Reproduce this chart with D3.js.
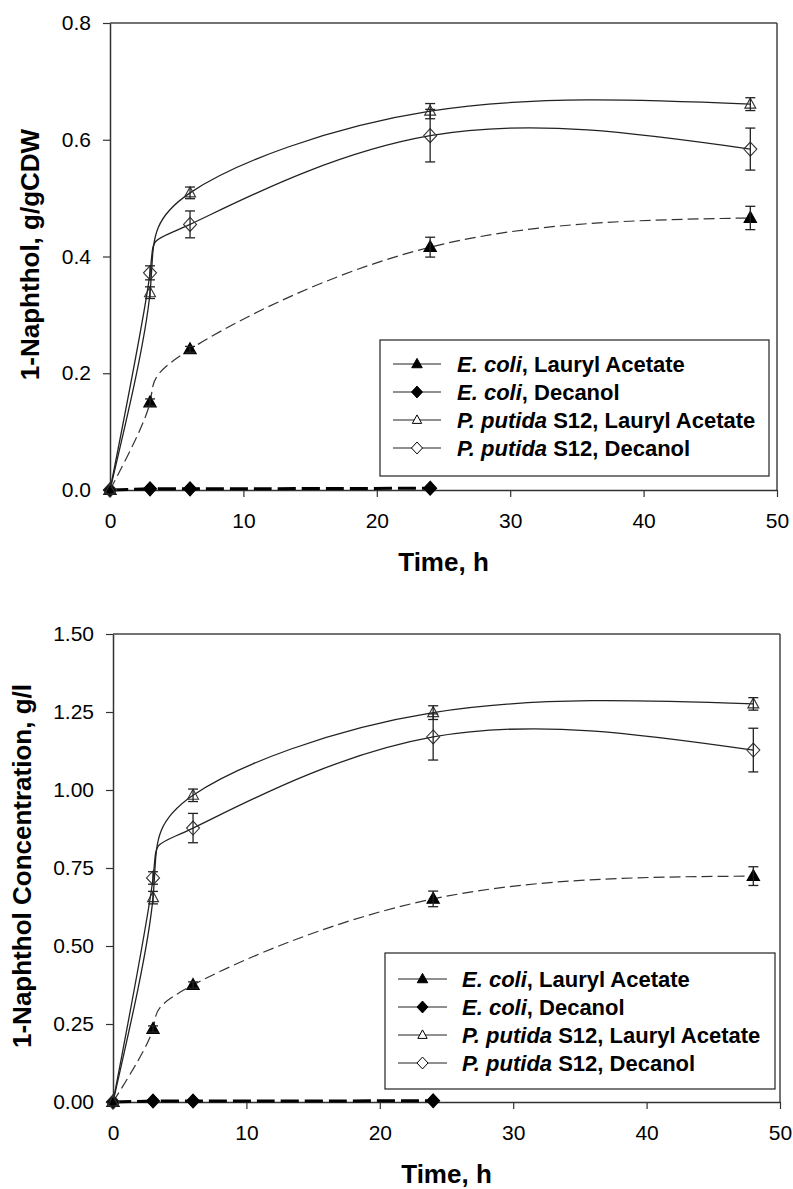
<!DOCTYPE html>
<html>
<head>
<meta charset="utf-8">
<script src="https://cdn.jsdelivr.net/npm/d3@7"></script>
<style>
  html, body { margin: 0; padding: 0; background: #fff; }
  svg { display: block; font-family: "Liberation Sans", Arial, sans-serif; }
</style>
</head>
<body>
<svg id="chart" width="793" height="1189"></svg>
<script>
// ---------- DATA ----------
const timeH = [0, 3, 6, 24, 48];
const timeDec = [0, 3, 6, 24];
const xTicks = [0, 10, 20, 30, 40, 50];

// Panel A: 1-Naphthol, g/gCDW
const yTicksA = [0, 0.2, 0.4, 0.6, 0.8];
const aEcoliLA = [0, 0.150, 0.241, 0.416, 0.466];
const aEcoliLAErr = [0, 0.006, 0.005, 0.017, 0.020];
const aEcoliDec = [0, 0.002, 0.002, 0.003];
const aPputLA = [0, 0.338, 0.509, 0.649, 0.661];
const aPputLAErr = [0, 0.010, 0.010, 0.013, 0.011];
const aPputDec = [0, 0.372, 0.455, 0.607, 0.584];
const aPputDecErr = [0, 0.012, 0.023, 0.045, 0.036];

// Panel B: 1-Naphthol Concentration, g/l
const yTicksB = [0, 0.25, 0.5, 0.75, 1.0, 1.25, 1.5];
const bEcoliLA = [0, 0.234, 0.375, 0.651, 0.724];
const bEcoliLAErr = [0, 0.010, 0.010, 0.025, 0.030];
const bEcoliDec = [0, 0.003, 0.003, 0.004];
const bPputLA = [0, 0.655, 0.983, 1.248, 1.276];
const bPputLAErr = [0, 0.020, 0.020, 0.022, 0.020];
const bPputDec = [0, 0.718, 0.878, 1.170, 1.128];
const bPputDecErr = [0, 0.020, 0.047, 0.074, 0.070];

const legendLabels = [
  ["E. coli", ", Lauryl Acetate"],
  ["E. coli", ", Decanol"],
  ["P. putida", " S12, Lauryl Acetate"],
  ["P. putida", " S12, Decanol"]
];
const seriesKinds = ["triFilled", "diaFilled", "triOpen", "diaOpen"];

// ---------- DRAWING ----------
const svg = d3.select("#chart");

function symbolPath(kind, s) {
  s = s || 1;
  if (kind.startsWith("tri")) {
    const hw = (kind === "triFilled" ? 6.2 : 5.5) * s, h = (kind === "triFilled" ? 11 : 10) * s;
    return `M0,${-h * 0.6}L${hw},${h * 0.4}L${-hw},${h * 0.4}Z`;
  } else {
    const hw = 6.5 * s, hh = 7 * s;
    return `M0,${-hh}L${hw},0L0,${hh}L${-hw},0Z`;
  }
}

function drawPanel(cfg) {
  const g = svg.append("g");
  const x = d3.scaleLinear().domain([0, 50]).range([cfg.left, cfg.right]);
  const y = d3.scaleLinear().domain([0, cfg.yMax]).range([cfg.bottom, cfg.top]);

  // frame top/right
  g.append("line").attr("x1", cfg.left).attr("x2", cfg.right).attr("y1", cfg.top).attr("y2", cfg.top)
    .attr("stroke", "#444").attr("stroke-width", 1.5);
  g.append("line").attr("x1", cfg.right).attr("x2", cfg.right).attr("y1", cfg.top).attr("y2", cfg.bottom)
    .attr("stroke", "#444").attr("stroke-width", 1.5);

  const xAxis = g.append("g").attr("transform", `translate(0,${cfg.bottom})`)
    .call(d3.axisBottom(x).tickValues(xTicks).tickFormat(d3.format("d")).tickSize(7).tickSizeOuter(0).tickPadding(16));
  const yAxis = g.append("g").attr("transform", `translate(${cfg.left},0)`)
    .call(d3.axisLeft(y).tickValues(cfg.yTicks).tickFormat(d3.format(cfg.fmt)).tickSize(7).tickSizeOuter(0).tickPadding(12));
  [xAxis, yAxis].forEach(a => {
    a.select(".domain").attr("stroke", "#333").attr("stroke-width", 1.5);
    a.selectAll(".tick line").attr("stroke", "#333").attr("stroke-width", 1.2);
    a.selectAll(".tick text").attr("font-size", 21).attr("fill", "#000")
      .attr("font-family", "'Liberation Sans', Arial, sans-serif");
  });

  // axis titles
  g.append("text").attr("x", (cfg.left + cfg.right) / 2).attr("y", cfg.bottom + 81)
    .attr("text-anchor", "middle").attr("font-size", 26).attr("font-weight", "bold").text("Time, h");
  g.append("text")
    .attr("transform", `translate(${cfg.yTitleX},${(cfg.top + cfg.bottom) / 2 - 2}) rotate(-90)`)
    .attr("text-anchor", "middle").attr("font-size", 26).attr("font-weight", "bold").text(cfg.yTitle);

  const line = d3.line().x(d => x(d[0])).y(d => y(d[1])).curve(d3.curveNatural);

  const series = [
    { t: timeH, v: cfg.ecoliLA, e: cfg.ecoliLAErr, kind: "triFilled", dash: "11,5", w: 1.2, color: "#333" },
    { t: timeDec, v: cfg.ecoliDec, e: null, kind: "diaFilled", dash: "18,6", w: 3, color: "#000" },
    { t: timeH, v: cfg.pputLA, e: cfg.pputLAErr, kind: "triOpen", dash: null, w: 1.3, color: "#222" },
    { t: timeH, v: cfg.pputDec, e: cfg.pputDecErr, kind: "diaOpen", dash: null, w: 1.3, color: "#222" }
  ];

  series.forEach(s => {
    const pts = s.t.map((t, i) => [t, s.v[i]]);
    g.append("path").attr("d", line(pts)).attr("fill", "none").attr("stroke", s.color)
      .attr("stroke-width", s.w).attr("stroke-dasharray", s.dash);
  });

  series.forEach(s => {
    const filled = s.kind.endsWith("Filled");
    s.t.forEach((t, i) => {
      const cx = x(t), cy = y(s.v[i]);
      g.append("path").attr("d", symbolPath(s.kind)).attr("transform", `translate(${cx},${cy})`)
        .attr("fill", filled ? "#000" : "none").attr("stroke", filled ? "#000" : "#333").attr("stroke-width", 1.1);
      if (s.e && s.e[i] > 0) {
        const y1 = y(s.v[i] + s.e[i]), y2 = y(s.v[i] - s.e[i]);
        g.append("line").attr("x1", cx).attr("x2", cx).attr("y1", y1).attr("y2", y2)
          .attr("stroke", "#222").attr("stroke-width", 1.3);
        [y1, y2].forEach(yy => g.append("line").attr("x1", cx - 5).attr("x2", cx + 5)
          .attr("y1", yy).attr("y2", yy).attr("stroke", "#222").attr("stroke-width", 1.3));
      }
    });
  });

  // legend
  const L = cfg.legend;
  g.append("rect").attr("x", L.x).attr("y", L.y).attr("width", L.w).attr("height", L.h)
    .attr("fill", "#fff").attr("stroke", "#222").attr("stroke-width", 1.2);
  legendLabels.forEach((lab, i) => {
    const ry = L.rows[i];
    g.append("line").attr("x1", L.lx1).attr("x2", L.lx2).attr("y1", ry).attr("y2", ry)
      .attr("stroke", "#222").attr("stroke-width", 1.1);
    const kind = seriesKinds[i];
    const filled = kind.endsWith("Filled");
    g.append("path").attr("d", symbolPath(kind, 0.85))
      .attr("transform", `translate(${(L.lx1 + L.lx2) / 2},${ry})`)
      .attr("fill", filled ? "#000" : "#fff").attr("stroke", "#000").attr("stroke-width", 1);
    const tx = g.append("text").attr("x", L.tx).attr("y", ry + 8)
      .attr("font-size", 22).attr("font-weight", "bold");
    tx.append("tspan").attr("font-style", "italic").text(lab[0]);
    tx.append("tspan").text(lab[1]);
  });
}

drawPanel({
  left: 110, right: 777, top: 23, bottom: 490, yMax: 0.8, yTicks: yTicksA, fmt: ".1f",
  yTitle: "1-Naphthol, g/gCDW", yTitleX: 39,
  ecoliLA: aEcoliLA, ecoliLAErr: aEcoliLAErr, ecoliDec: aEcoliDec,
  pputLA: aPputLA, pputLAErr: aPputLAErr, pputDec: aPputDec, pputDecErr: aPputDecErr,
  legend: { x: 380, y: 340, w: 389, h: 136, rows: [364, 392, 420, 448], lx1: 393, lx2: 441, tx: 457 }
});

drawPanel({
  left: 113, right: 780, top: 634, bottom: 1102, yMax: 1.5, yTicks: yTicksB, fmt: ".2f",
  yTitle: "1-Naphthol Concentration, g/l", yTitleX: 31,
  ecoliLA: bEcoliLA, ecoliLAErr: bEcoliLAErr, ecoliDec: bEcoliDec,
  pputLA: bPputLA, pputLAErr: bPputLAErr, pputDec: bPputDec, pputDecErr: bPputDecErr,
  legend: { x: 385, y: 953, w: 390, h: 136, rows: [979, 1007, 1035, 1063], lx1: 398, lx2: 447, tx: 462 }
});
</script>
</body>
</html>
